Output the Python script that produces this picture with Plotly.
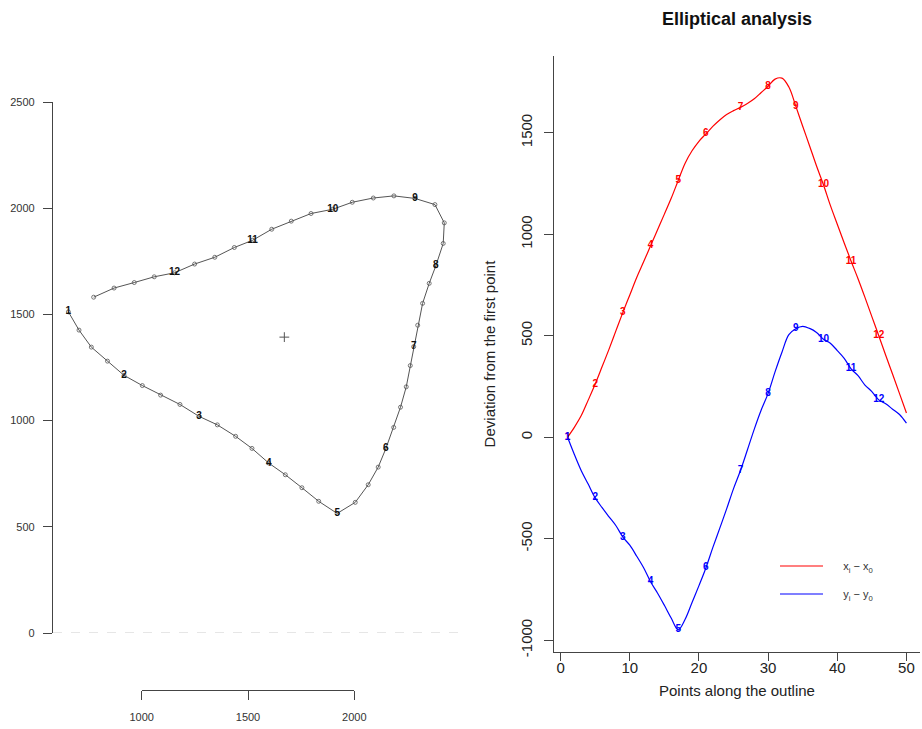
import plotly.graph_objects as go

# Outline coordinates (50 points traced around the shape)
outline_x = [655, 705, 763, 839, 917, 1003, 1089, 1180, 1270, 1356,
             1442, 1519, 1598, 1676, 1754, 1833, 1920, 2005, 2066, 2113,
             2149, 2186, 2218, 2245, 2264, 2280, 2299, 2322, 2353, 2384,
             2419, 2424, 2380, 2286, 2187, 2090, 1991, 1899, 1797, 1704,
             1612, 1522, 1436, 1344, 1249, 1155, 1059, 965, 870, 774]
outline_y = [1512, 1426, 1346, 1280, 1213, 1165, 1120, 1076, 1020, 980,
             926, 869, 800, 745, 684, 620, 563, 615, 698, 781,
             868, 968, 1063, 1159, 1259, 1348, 1449, 1552, 1646, 1728,
             1834, 1931, 2017, 2046, 2058, 2048, 2028, 1995, 1975, 1939,
             1901, 1849, 1815, 1769, 1737, 1696, 1677, 1650, 1624, 1581]

# Landmark indices (1-based) and their labels
label_idx = [1, 5, 9, 13, 17, 21, 26, 30, 34, 38, 42, 46]
label_txt = [str(i + 1) for i in range(len(label_idx))]

left_yticks = [0, 500, 1000, 1500, 2000, 2500]
left_xticks = [1000, 1500, 2000]
right_xticks = [0, 10, 20, 30, 40, 50]
right_yticks = [-1000, -500, 0, 500, 1000, 1500]

idx = list(range(1, len(outline_x) + 1))
dx = [v - outline_x[0] for v in outline_x]
dy = [v - outline_y[0] for v in outline_y]
cx = sum(outline_x) / len(outline_x)
cy = sum(outline_y) / len(outline_y)

W, H = 922, 729
FONT = "Liberation Sans, Arial, sans-serif"
RED, BLUE = "#ff0000", "#0000ff"


def px(v):
    return v / W


def py(v):
    return 1 - v / H


fig = go.Figure()

# ---- right panel: deviations ----
pad = "\u00a0" * 5
fig.add_trace(go.Scatter(
    x=idx, y=dx, mode="lines", xaxis="x3", yaxis="y3",
    line=dict(color=RED, width=1.2, shape="spline", smoothing=1.0),
    name=pad + "x<sub>i</sub> \u2212 x<sub>0</sub>", legend="legend",
    hoverinfo="skip"))
fig.add_trace(go.Scatter(
    x=idx, y=dy, mode="lines", xaxis="x3", yaxis="y3",
    line=dict(color=BLUE, width=1.2, shape="spline", smoothing=1.0),
    name=pad + "y<sub>i</sub> \u2212 y<sub>0</sub>", legend="legend2",
    hoverinfo="skip"))
fig.add_trace(go.Scatter(
    x=label_idx, y=[dx[i - 1] for i in label_idx], mode="text", text=label_txt,
    xaxis="x3", yaxis="y3",
    textfont=dict(family=FONT, size=10, color=RED, weight="bold"),
    showlegend=False, hoverinfo="skip"))
fig.add_trace(go.Scatter(
    x=label_idx, y=[dy[i - 1] for i in label_idx], mode="text", text=label_txt,
    xaxis="x3", yaxis="y3",
    textfont=dict(family=FONT, size=10, color=BLUE, weight="bold"),
    showlegend=False, hoverinfo="skip"))

# ---- left panel: the outline ----
fig.add_trace(go.Scatter(
    x=outline_x, y=outline_y, mode="lines+markers", xaxis="x", yaxis="y",
    line=dict(color="#555555", width=1),
    marker=dict(symbol="circle-open", size=4, color="#555555", line=dict(width=0.8)),
    showlegend=False, hoverinfo="skip"))
fig.add_trace(go.Scatter(
    x=[outline_x[i - 1] for i in label_idx], y=[outline_y[i - 1] for i in label_idx],
    mode="text", text=label_txt, xaxis="x", yaxis="y",
    textfont=dict(family=FONT, size=10, color="#111111", weight="bold"),
    showlegend=False, hoverinfo="skip"))
fig.add_trace(go.Scatter(
    x=[cx], y=[cy], mode="markers", xaxis="x", yaxis="y",
    marker=dict(symbol="cross-thin-open", size=7, color="#555555", line=dict(width=1)),
    showlegend=False, hoverinfo="skip"))
# empty trace so the detached x axis is rendered
fig.add_trace(go.Scatter(
    x=[left_xticks[0], left_xticks[-1]], y=[None, None], mode="lines",
    line=dict(color="rgba(0,0,0,0)"),
    xaxis="x2", yaxis="y", showlegend=False, hoverinfo="skip"))

axis_line = "#444444"
small = dict(family=FONT, size=11, color="#333333")
big = dict(family=FONT, size=15, color="#222222")
legend_style = dict(xanchor="left", yanchor="middle", bgcolor="rgba(0,0,0,0)",
                    font=dict(family=FONT, size=11, color="#333333"), itemwidth=43)

fig.update_layout(
    width=W, height=H, margin=dict(l=0, r=0, t=0, b=0, autoexpand=False),
    paper_bgcolor="white", plot_bgcolor="rgba(0,0,0,0)",
    font=dict(family=FONT),
    title=dict(text="<b>Elliptical analysis</b>", x=px(737), xanchor="center",
               y=py(19), yanchor="middle", font=dict(family=FONT, size=18, color="#111111")),
    xaxis=dict(domain=[px(53), px(460)], range=[582.6, 2498], visible=False,
               anchor="y", automargin=False),
    yaxis=dict(domain=[py(633), py(102)], range=[0, 2500], anchor="x", automargin=False,
               showline=True, linecolor=axis_line, linewidth=1.3, ticks="outside",
               ticklen=9, tickcolor=axis_line, tickwidth=1.3, tickvals=left_yticks,
               tickfont=small, ticklabelstandoff=6, showgrid=False, zeroline=False),
    xaxis2=dict(domain=[px(141.7), px(354.3)], range=[1000, 2000], anchor="free",
                position=py(690), showline=True, linecolor=axis_line, linewidth=1.3,
                ticks="outside", ticklen=9, tickcolor=axis_line, tickwidth=1.3,
                tickvals=left_xticks, tickfont=small, ticklabelstandoff=8,
                showgrid=False, zeroline=False, automargin=False),
    xaxis3=dict(domain=[px(554), px(920)], range=[-0.96, 51.96], anchor="y3",
                showline=True, linecolor=axis_line, linewidth=1.3, ticks="outside",
                ticklen=8, tickcolor=axis_line, tickwidth=1.3, tickvals=right_xticks,
                tickfont=big, ticklabelstandoff=-6, showgrid=False, zeroline=False,
                automargin=False,
                title=dict(text="Points along the outline", font=big, standoff=10)),
    yaxis3=dict(domain=[py(652), py(56)], range=[-1058, 1878], anchor="x3",
                showline=True, linecolor=axis_line, linewidth=1.3, ticks="outside",
                ticklen=9, tickcolor=axis_line, tickwidth=1.3, tickvals=right_yticks,
                ticktext=[str(v) for v in right_yticks],
                tickangle=-90, tickfont=big, ticklabelstandoff=6, showgrid=False,
                zeroline=False, automargin=False,
                title=dict(text="Deviation from the first point", font=big, standoff=18)),
    legend=dict(x=px(775), y=py(566), **legend_style),
    legend2=dict(x=px(775), y=py(594), **legend_style),
    shapes=[dict(type="line", xref="x domain", yref="y", x0=0, x1=1, y0=0, y1=0,
                 line=dict(color="#cccccc", width=1, dash="dash"))],
)

fig.write_html("out.html")
